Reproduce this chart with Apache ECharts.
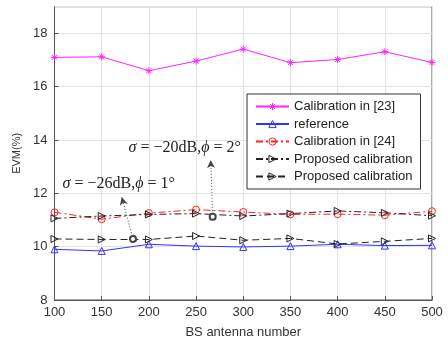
<!DOCTYPE html>
<html><head><meta charset="utf-8">
<script src="https://cdn.jsdelivr.net/npm/echarts@6/dist/echarts.min.js"></script>
<style>html,body{margin:0;padding:0;background:#fff}#c{width:448px;height:344px}</style>
</head><body><div id="c"></div>
<script>
const antennas = [100,150,200,250,300,350,400,450,500];
const calib23 = [17.1,17.12,16.6,16.96,17.41,16.9,17.02,17.31,16.91];
const reference = [9.9,9.84,10.09,10.02,9.99,10.02,10.09,10.04,10.05];
const calib24 = [11.29,11.03,11.26,11.39,11.3,11.21,11.22,11.18,11.33];
const proposed20 = [11.06,11.15,11.21,11.24,11.15,11.24,11.34,11.27,11.16];
const proposed26 = [10.29,10.27,10.27,10.4,10.24,10.31,10.1,10.2,10.31];
const seriesNames = ['Calibration in [23]','reference','Calibration in [24]','Proposed calibration','Proposed calibration '];
const seriesColors = ['#ff22ff','#3333ff','#ff2222','#222','#222'];
const yTicks = [8,10,12,14,16,18];
// annotations: [label parts, text anchor (x,y), arrow from (x,y), arrow to (x,y)]
const annText = [['σ',' = −20dB,','ϕ',' = 2°'],['σ',' = −26dB,','ϕ',' = 1°']];
const annTextPos = [[238,13.72],[168,12.36]];
const annArrowFrom = [[267.6,11.12],[183.2,10.29]];
const annArrowTo = [[265.5,13.25],[171.2,11.86]];

const pair = a => antennas.map((x,i)=>[x,a[i]]);
const star = 'path://M0,-1L0,1M-1,0L1,0M-0.7,-0.7L0.7,0.7M-0.7,0.7L0.7,-0.7';
const triR = 'path://M0,0L1,0.5L0,1Z';
const chart = echarts.init(document.getElementById('c'));
const mk = (name, data, color, lineType, symbol, size) => ({
  name, type:'line', data: pair(data), symbol, symbolSize:size, showSymbol:true,
  lineStyle:{color, width:1, type:lineType},
  itemStyle:{color:'rgba(255,255,255,0)', borderColor:color, borderWidth:1},
  emphasis:{disabled:true}, animation:false, z:3
});
const s5 = mk(seriesNames[4], proposed26, seriesColors[4], [7,4], triR, [7,7]);
s5.markLine = {
  silent:true, symbol:['emptyCircle','arrow'], symbolSize:[6,8], animation:false,
  lineStyle:{color:'#444', type:[1,2], width:1}, label:{show:false},
  data: annArrowFrom.map((f,i)=>[{coord:f},{coord:annArrowTo[i]}])
};
chart.setOption({
  backgroundColor:'#fff',
  animation:false,
  grid:{left:54.5, right:16, top:6.7, bottom:44, show:true, borderColor:'#555', borderWidth:1, backgroundColor:'#fff'},
  xAxis:{type:'value', min:100, max:500, interval:50,
    name:'BS antenna number', nameLocation:'middle', nameGap:26,
    nameTextStyle:{fontFamily:'Liberation Sans', fontSize:13, color:'#333'},
    axisLine:{show:true, lineStyle:{color:'#555'}}, axisTick:{inside:true, length:4, lineStyle:{color:'#555'}},
    axisLabel:{fontFamily:'Liberation Sans', fontSize:13, color:'#333', margin:6},
    splitLine:{show:true, lineStyle:{color:'#e2e2e2'}}},
  yAxis:{type:'value', min:8, max:19, interval:2,
    name:'EVM(%)', nameLocation:'middle', nameGap:30,
    nameTextStyle:{fontFamily:'Liberation Sans', fontSize:11, color:'#333'},
    axisLine:{show:true, lineStyle:{color:'#555'}}, axisTick:{inside:true, length:4, lineStyle:{color:'#555'}},
    axisLabel:{fontFamily:'Liberation Sans', fontSize:13, color:'#333', margin:7, showMaxLabel:false,
      formatter: v => yTicks.includes(v) ? String(v) : ''},
    splitLine:{show:true, lineStyle:{color:'#e2e2e2'}}},
  legend:{orient:'vertical', left:247, top:94, itemWidth:33, itemHeight:9, itemGap:4.5,
    padding:[6,8,6,8], borderColor:'#333', borderWidth:1, backgroundColor:'#fff',
    textStyle:{fontFamily:'Liberation Sans', fontSize:13, color:'#222'},
    formatter: n => n.trim(), selectedMode:false,
    data: seriesNames.map((n,i)=>({name:n, itemStyle:{color:'rgba(255,255,255,0)', borderColor:seriesColors[i], borderWidth:1}}))},
  series:[
    mk(seriesNames[0], calib23, seriesColors[0], 'solid', star, 7),
    mk(seriesNames[1], reference, seriesColors[1], 'solid', 'triangle', 7),
    mk(seriesNames[2], calib24, seriesColors[2], [7,3,2,3], 'circle', 7),
    mk(seriesNames[3], proposed20, seriesColors[3], [7,3,2,3], triR, [7,7]),
    s5
  ]
});
const gr = annText.map((parts,i)=>{
  const p = chart.convertToPixel({gridIndex:0}, annTextPos[i]);
  return {type:'text', x:p[0], y:p[1], z:10,
    style:{text:'{i|'+parts[0]+'}{n|'+parts[1]+'}{i|'+parts[2]+'}{n|'+parts[3]+'}',
      align:'center', verticalAlign:'middle',
      rich:{i:{fontFamily:'Liberation Serif', fontStyle:'italic', fontSize:16, fill:'#222'},
            n:{fontFamily:'Liberation Serif', fontSize:16, fill:'#222'}}}};
});
chart.setOption({graphic:gr});
</script></body></html>
